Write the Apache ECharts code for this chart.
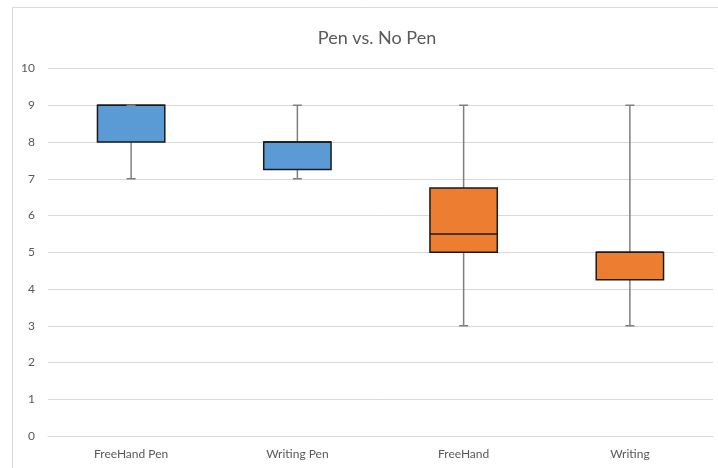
<!DOCTYPE html>
<html>
<head>
<meta charset="utf-8">
<script src="https://cdn.jsdelivr.net/npm/echarts@6/dist/echarts.min.js"></script>
<style>
  html, body { margin: 0; padding: 0; background: #fff; }
  #chart { width: 718px; height: 468px; }
</style>
</head>
<body>
<div id="chart"></div>
<script>
// Box plot summary per group
const categories = ['FreeHand Pen', 'Writing Pen', 'FreeHand', 'Writing'];
const minValues    = [7, 7, 3, 3];
const q1Values     = [8, 7.25, 5, 4.25];
const medianValues = [9, 8, 5.5, 5];
const q3Values     = [9, 8, 6.75, 5];
const maxValues    = [9, 9, 9, 9];
const boxColors    = ['#5B9BD5', '#5B9BD5', '#ED7D31', '#ED7D31'];
const yTicks       = [0, 10, 1]; // min, max, interval

const seriesData = categories.map((c, i) => [i, minValues[i], q1Values[i], medianValues[i], q3Values[i], maxValues[i]]);

const chart = echarts.init(document.getElementById('chart'), null, { renderer: 'canvas' });

function renderBox(params, api) {
  const idx = api.value(0);
  const pMin = api.coord([idx, api.value(1)]);
  const pQ1 = api.coord([idx, api.value(2)]);
  const pMed = api.coord([idx, api.value(3)]);
  const pQ3 = api.coord([idx, api.value(4)]);
  const pMax = api.coord([idx, api.value(5)]);
  const band = api.size([1, 0])[0];
  const boxW = band * 0.405;
  const capW = 9;
  const cx = pMin[0];
  const whisker = { stroke: '#7f7f7f', lineWidth: 1.5 };
  const edge = { stroke: '#1a1a1a', lineWidth: 1.5 };
  return {
    type: 'group',
    children: [
      { type: 'line', shape: { x1: cx, y1: pMin[1], x2: cx, y2: pQ1[1] }, style: whisker },
      { type: 'line', shape: { x1: cx, y1: pQ3[1], x2: cx, y2: pMax[1] }, style: whisker },
      {
        type: 'rect',
        shape: { x: cx - boxW / 2, y: pQ3[1], width: boxW, height: pQ1[1] - pQ3[1] },
        style: { fill: boxColors[params.dataIndex], stroke: '#1a1a1a', lineWidth: 1.5 }
      },
      { type: 'line', shape: { x1: cx - boxW / 2, y1: pMed[1], x2: cx + boxW / 2, y2: pMed[1] }, style: edge },
      { type: 'line', shape: { x1: cx - capW / 2, y1: pMin[1], x2: cx + capW / 2, y2: pMin[1] }, style: whisker },
      { type: 'line', shape: { x1: cx - capW / 2, y1: pMax[1], x2: cx + capW / 2, y2: pMax[1] }, style: whisker }
    ]
  };
}

chart.setOption({
  animation: false,
  backgroundColor: '#ffffff',
  textStyle: { fontFamily: 'Lato, "Open Sans", sans-serif' },
  title: {
    text: 'Pen vs. No Pen',
    left: 372,
    top: 24,
    textAlign: 'center',
    textStyle: { fontSize: 18, fontWeight: 'normal', color: '#595959', fontFamily: 'Lato, "Open Sans", sans-serif' }
  },
  graphic: [{
    type: 'rect',
    shape: { x: 12.5, y: 7.5, width: 800, height: 800 },
    style: { fill: 'none', stroke: '#d9d9d9', lineWidth: 1 },
    silent: true
  }],
  grid: { left: 48, right: 5, top: 68.5, bottom: 32 },
  xAxis: {
    type: 'category',
    data: categories,
    axisLine: { show: true, lineStyle: { color: '#d9d9d9', width: 1 } },
    axisTick: { show: false },
    axisLabel: { color: '#595959', fontSize: 12, margin: 12 }
  },
  yAxis: {
    type: 'value',
    min: yTicks[0],
    max: yTicks[1],
    interval: yTicks[2],
    axisLine: { show: false },
    axisTick: { show: false },
    splitLine: { lineStyle: { color: '#d9d9d9', width: 1 } },
    axisLabel: { color: '#595959', fontSize: 12, margin: 13 }
  },
  series: [{
    type: 'custom',
    renderItem: renderBox,
    encode: { x: 0, y: [1, 2, 3, 4, 5] },
    data: seriesData
  }]
});
</script>
</body>
</html>
